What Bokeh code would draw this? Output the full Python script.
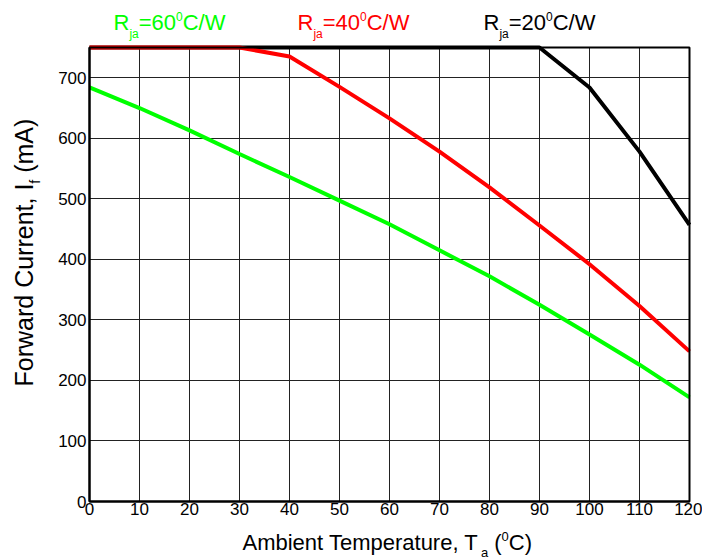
import math
from bokeh.plotting import figure
from bokeh.models import Range1d, FixedTicker, Label, BoxAnnotation, Grid
from bokeh.embed import file_html
from bokeh.resources import INLINE

# ---- data ----
temps = [0, 10, 20, 30, 40, 50, 60, 70, 80, 90, 100, 110, 120]
cur_20 = [750, 750, 750, 750, 750, 750, 750, 750, 750, 750, 684, 578, 457]
cur_40 = [750, 750, 750, 750, 735, 685, 633, 578, 519, 456, 392, 323, 248]
cur_60 = [684, 650, 613, 574, 536, 497, 458, 415, 372, 325, 276, 226, 172]
x_ticks = [0, 10, 20, 30, 40, 50, 60, 70, 80, 90, 100, 110, 120]
y_ticks = [0, 100, 200, 300, 400, 500, 600, 700]
series_titles = [("60", "#00FF00"), ("40", "#FF0000"), ("20", "#000000")]
X_MIN, X_MAX = 0, 120
Y_MIN, Y_MAX = 0, 750

FONT = "Liberation Sans"

# canvas layout (pixels)
CW, CH = 702, 559
FL, FR, FT, FB = 89, 689, 47, 501          # plot box edges on the canvas
XS = (FR - FL) / (X_MAX - X_MIN)           # px per degree
YS = (FB - FT) / (Y_MAX - Y_MIN)           # px per mA

p = figure(width=CW, height=CH, output_backend="svg", toolbar_location=None,
           x_range=Range1d(X_MIN - FL / XS, X_MAX + (CW - FR) / XS),
           y_range=Range1d(Y_MIN - (CH - FB) / YS, Y_MAX + FT / YS),
           min_border=0)
p.background_fill_color = "white"
p.border_fill_color = "white"
p.outline_line_color = None

# axes placed at the plot box edges
p.xaxis.fixed_location = Y_MIN
p.yaxis.fixed_location = X_MIN
p.xaxis.bounds = (X_MIN, X_MAX)
p.yaxis.bounds = (Y_MIN, Y_MAX)
p.xaxis.ticker = FixedTicker(ticks=x_ticks)
p.yaxis.ticker = FixedTicker(ticks=y_ticks)
for ax in (p.xaxis, p.yaxis):
    ax.major_tick_out = 0
    ax.major_tick_in = 0
    ax.minor_tick_out = 0
    ax.minor_tick_in = 0
    ax.axis_line_color = "black"
    ax.axis_line_width = 2
    ax.major_label_text_font = FONT
    ax.major_label_text_font_size = "17px"
    ax.major_label_text_color = "black"
p.yaxis.major_label_standoff = 3
p.xaxis.major_label_standoff = 1

# grid limited to the plot box
p.xgrid.ticker = FixedTicker(ticks=x_ticks)
p.ygrid.ticker = FixedTicker(ticks=y_ticks)
p.xgrid.bounds = (X_MIN, X_MAX)
p.ygrid.bounds = (Y_MIN, Y_MAX)
if "cross_bounds" in Grid.properties():
    p.xgrid.cross_bounds = (Y_MIN, Y_MAX)
    p.ygrid.cross_bounds = (X_MIN, X_MAX)
    p.grid.grid_line_color = "#222222"
    p.grid.grid_line_width = 1
else:
    p.grid.grid_line_color = None
    gx = x_ticks[1:-1]
    gy = y_ticks[1:]
    p.segment(x0=gx, x1=gx, y0=[Y_MIN] * len(gx), y1=[Y_MAX] * len(gx),
              line_color="#222222", line_width=1)
    p.segment(x0=[X_MIN] * len(gy), x1=[X_MAX] * len(gy), y0=gy, y1=gy,
              line_color="#222222", line_width=1)

p.line(temps, cur_20, line_color="black", line_width=4)
p.line(temps, cur_40, line_color="#FF0000", line_width=4)
p.line(temps, cur_60, line_color="#00FF00", line_width=4)

p.add_layout(BoxAnnotation(left=X_MIN, right=X_MAX, bottom=Y_MIN, top=Y_MAX,
                           fill_color=None, fill_alpha=0, line_color="black",
                           line_width=2, line_alpha=1))

# ---- text helpers (Arial metrics, per 1000 em) ----
W = {'A': 667, 'm': 833, 'b': 556, 'i': 222, 'e': 556, 'n': 556, 't': 278, ' ': 278,
     'T': 611, 'p': 556, 'r': 333, 'a': 556, 'u': 556, ',': 278, '(': 333, ')': 333,
     'C': 722, 'F': 611, 'o': 556, 'w': 722, 'd': 556, 'I': 278, 'f': 278, 'R': 722,
     '=': 584, '/': 278, 'W': 944, 'j': 222}
for d in "0123456789":
    W[d] = 556
MID = 0.3465   # em distance from the alphabetic baseline to the text middle


def tw(s, size):
    return sum(W.get(c, 556) for c in s) * size / 1000.0


def dx(px):
    return X_MIN + (px - FL) / XS


def dy(py):
    return Y_MIN + (FB - py) / YS


def place(pieces, x0, y0, color="black", vertical=False):
    # x0, y0: canvas pixels from the top-left corner (start of the baseline)
    pos = x0 if not vertical else y0
    for text, size, shift in pieces:
        core = text.strip()
        lead = tw(text[:len(text) - len(text.lstrip())], size)
        adv = tw(text, size)
        start = pos + lead if not vertical else pos - lead
        off = shift - MID * size      # baseline shift, then middle of text
        if not vertical:
            lx, ly, ang = dx(start), dy(y0 + off), 0
            pos += adv
        else:
            lx, ly, ang = dx(x0 + off), dy(start), math.pi / 2
            pos -= adv
        p.add_layout(Label(x=lx, y=ly, text=core, text_font=FONT,
                           text_font_size=f"{size}px", text_color=color,
                           text_align="left", text_baseline="middle",
                           angle=ang))


# series titles
starts = [113, 297, 483]
for (val, col), sx in zip(series_titles, starts):
    place([("R", 22, 0), ("ja", 12, 7.5), ("=" + val, 22, 0), ("0", 12, -9.5),
           ("C/W", 22, 0)], sx, 30, color=col)

# x axis label
place([("Ambient Temperature, T", 22, 0), ("a", 13, 7), (" (", 22, 0),
       ("0", 13, -9), ("C)", 22, 0)], 242, 550)

# y axis label
place([("Forward Current, I", 25, 0), ("f", 14, 7), (" (mA)", 25, 0)],
      32, 386, vertical=True)

open("out.html", "w").write(file_html(p, INLINE))
